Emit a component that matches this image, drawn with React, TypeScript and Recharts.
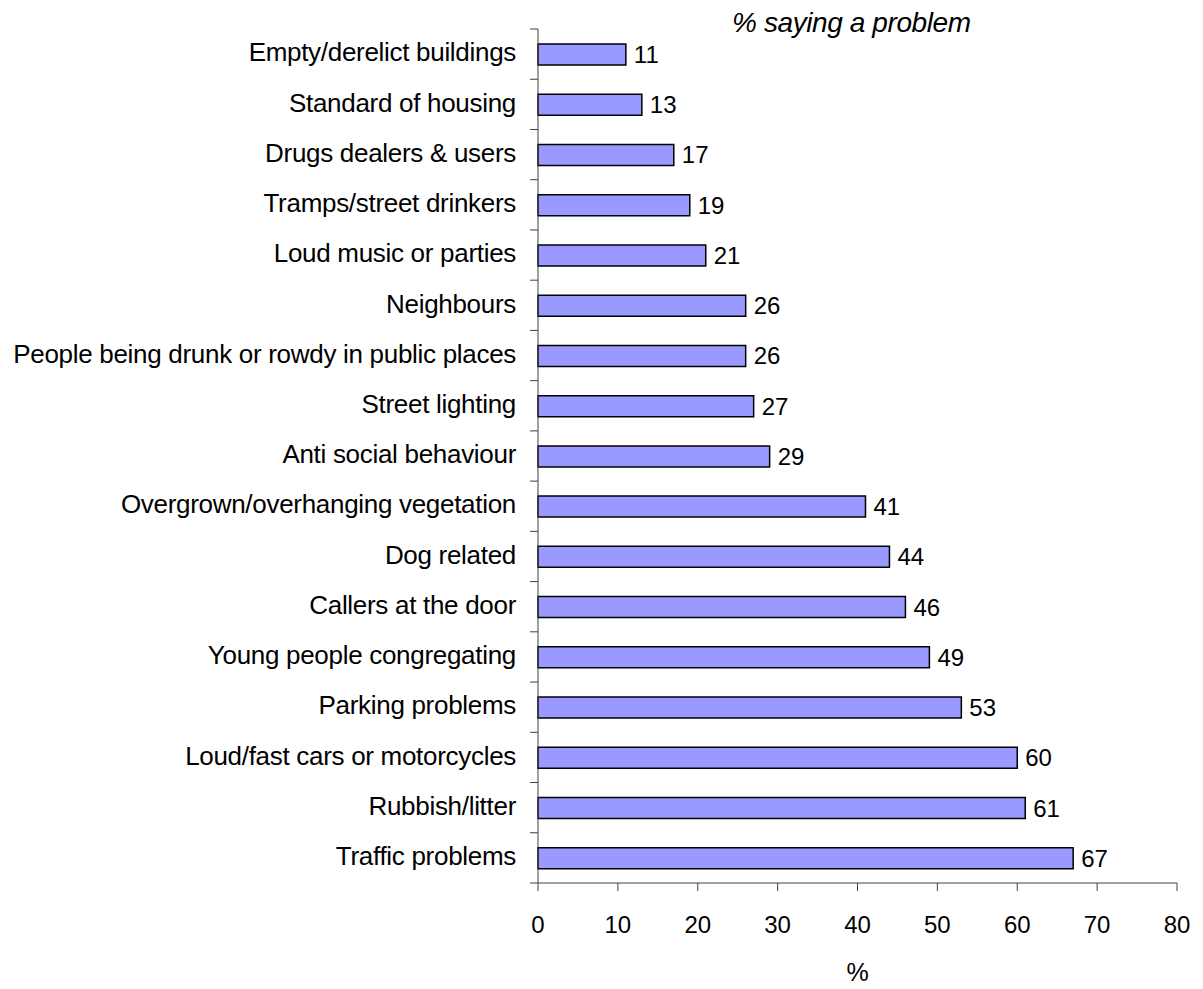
import { Bar, BarChart, LabelList, XAxis, YAxis } from "recharts";

const PROBLEMS = [
  "Empty/derelict buildings",
  "Standard of housing",
  "Drugs dealers & users",
  "Tramps/street drinkers",
  "Loud music or parties",
  "Neighbours",
  "People being drunk or rowdy in public places",
  "Street lighting",
  "Anti social behaviour",
  "Overgrown/overhanging vegetation",
  "Dog related",
  "Callers at the door",
  "Young people congregating",
  "Parking problems",
  "Loud/fast cars or motorcycles",
  "Rubbish/litter",
  "Traffic problems",
];
const PERCENT_SAYING = [11, 13, 17, 19, 21, 26, 26, 27, 29, 41, 44, 46, 49, 53, 60, 61, 67];
const X_TICKS = [0, 10, 20, 30, 40, 50, 60, 70, 80];

const data = PROBLEMS.map((problem, i) => ({ problem, pct: PERCENT_SAYING[i] }));

const WIDTH = 1190;
const HEIGHT = 981;
const MARGIN = { top: 21, right: 21, bottom: 6, left: 0 };
const Y_AXIS_WIDTH = 530;
const X_AXIS_HEIGHT = 100;
const PLOT_H = HEIGHT - MARGIN.top - MARGIN.bottom - X_AXIS_HEIGHT;
const BAND = PLOT_H / PROBLEMS.length;
const AXIS_COLOR = "#404040";

// category labels, with the tick marks between bands rather than at their centres
function ProblemTick(props: any) {
  const { y, payload, index } = props;
  const axisX = MARGIN.left + Y_AXIS_WIDTH;
  const top = y - BAND / 2;
  return (
    <g>
      <line x1={axisX - 8} x2={axisX} y1={top} y2={top} stroke={AXIS_COLOR} />
      {index === PROBLEMS.length - 1 && (
        <line x1={axisX - 8} x2={axisX} y1={top + BAND} y2={top + BAND} stroke={AXIS_COLOR} />
      )}
      <text
        x={axisX - 22}
        y={y - 2}
        dy="0.355em"
        textAnchor="end"
        fontSize={26}
        fill="#000"
        style={{ letterSpacing: "-0.3px" }}
      >
        {payload.value}
      </text>
    </g>
  );
}

export default function App() {
  return (
    <div
      style={{
        position: "relative",
        width: WIDTH,
        height: HEIGHT,
        fontFamily: "'Liberation Sans', Arial, sans-serif",
      }}
    >
      <div
        style={{
          position: "absolute",
          left: 724,
          top: 1,
          fontSize: 28,
          lineHeight: "28px",
          fontStyle: "italic",
          letterSpacing: "-0.4px",
          whiteSpace: "nowrap",
          color: "#000",
        }}
      >
        % saying a problem
      </div>
      <BarChart width={WIDTH} height={HEIGHT} data={data} layout="vertical" margin={MARGIN}>
        <XAxis
          type="number"
          domain={[0, 80]}
          ticks={X_TICKS}
          interval={0}
          height={X_AXIS_HEIGHT}
          tickSize={8}
          tickMargin={25}
          stroke={AXIS_COLOR}
          tick={{ fill: "#000", fontSize: 24 }}
          label={{ value: "%", position: "insideBottom", offset: 2, fill: "#000", fontSize: 25 }}
        />
        <YAxis
          type="category"
          dataKey="problem"
          width={Y_AXIS_WIDTH}
          interval={0}
          tickLine={false}
          stroke={AXIS_COLOR}
          tick={<ProblemTick />}
        />
        <Bar dataKey="pct" barSize={21} fill="#9999FF" stroke="#000" strokeWidth={1.5} isAnimationActive={false}>
          <LabelList dataKey="pct" position="right" offset={8} fill="#000" fontSize={24} />
        </Bar>
      </BarChart>
    </div>
  );
}
